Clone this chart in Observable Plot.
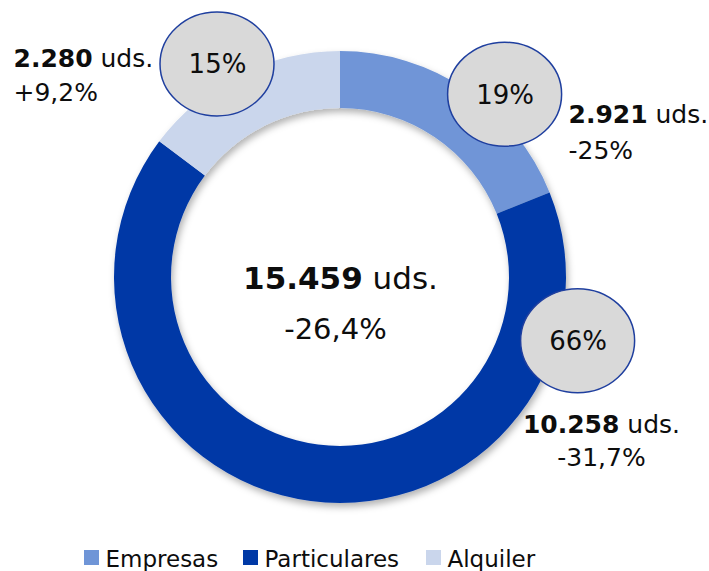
<!DOCTYPE html>
<html><head><meta charset="utf-8">
<script src="https://cdn.jsdelivr.net/npm/d3@7"></script>
<script src="https://cdn.jsdelivr.net/npm/@observablehq/plot@0.6"></script>
<style>body{margin:0;background:#fff} svg{display:block} text{white-space:pre}</style>
</head><body><div id="chart"></div>
<script>
// ---- data ----
const categories = ["Empresas", "Particulares", "Alquiler"];
const units = [2921, 10258, 2280];
const unitLabels = ["2.921", "10.258", "2.280"];
const shareLabels = ["19%", "66%", "15%"];
const changeLabels = ["-25%", "-31,7%", "+9,2%"];
const totalLabel = "15.459";
const totalChange = "-26,4%";
const unitSuffix = " uds.";

// ---- style / layout ----
const colors = ["#6f95d7", "#0039a6", "#cad6ec"];
const W = 709, H = 571;
const cx = 340, cy = 277, rOuter = 226, rInner = 169;
const bubbleAngle = [42, 105, 330], bubbleDist = 246, bubbleRx = 57, bubbleRy = 52;
const labelPos = [
  {x: 568, y: 122, gap: 36, anchor: "start"},
  {x: 601, y: 432, gap: 33, anchor: "middle"},
  {x: 13, y: 66, gap: 34, anchor: "start"}
];
const legendX = [84, 243, 426], legendY = 550, legendSize = 15;
const FONT = "DejaVu Sans";
const INK = "#0d0d0d";

const rows = categories.map((c, i) => ({
  category: c, units: units[i], unitLabel: unitLabels[i],
  share: shareLabels[i], change: changeLabels[i], color: colors[i], i
}));
const pie = d3.pie().sort(null).value(d => d.units)(rows);

const bubbles = rows.map(d => {
  const a = bubbleAngle[d.i] * Math.PI / 180;
  return {...d, bx: cx + bubbleDist * Math.sin(a), by: cy - bubbleDist * Math.cos(a)};
});
const labels = rows.map(d => ({...d, ...labelPos[d.i]}));
const legend = rows.map(d => ({...d, lx: legendX[d.i]}));

function donutMark(index, scales) {
  const sx = scales.x, sy = scales.y;
  const X = sx(cx), Y = sy(cy);
  const ro = sx(cx + rOuter) - X, ri = sx(cx + rInner) - X;
  const g = d3.create("svg:g");
  const f = g.append("defs").append("filter").attr("id", "shadow")
    .attr("x", "-20%").attr("y", "-20%").attr("width", "140%").attr("height", "140%");
  f.append("feDropShadow").attr("dx", 2).attr("dy", 4).attr("stdDeviation", 3.5)
    .attr("flood-color", "#000").attr("flood-opacity", 0.3);
  const arc = d3.arc().innerRadius(ri).outerRadius(ro);
  g.append("g").attr("transform", `translate(${X},${Y})`).attr("filter", "url(#shadow)")
    .selectAll("path").data(pie).join("path")
    .attr("d", arc).attr("fill", d => d.data.color);
  return g.node();
}

function bubbleMark(index, scales) {
  const sx = scales.x, sy = scales.y;
  const g = d3.create("svg:g");
  g.selectAll("ellipse").data(bubbles).join("ellipse")
    .attr("cx", d => sx(d.bx)).attr("cy", d => sy(d.by))
    .attr("rx", d => sx(d.bx + bubbleRx) - sx(d.bx))
    .attr("ry", d => sy(d.by + bubbleRy) - sy(d.by))
    .attr("fill", "#d9d9d9").attr("stroke", "#1f3f9f").attr("stroke-width", 1.5);
  return g.node();
}

const labelMarks = ["start", "middle"].flatMap(anchor => {
  const sub = labels.filter(d => d.anchor === anchor);
  return [
    Plot.text(sub, {x: "x", y: "y", text: d => d.unitLabel + unitSuffix, fontSize: 25,
      textAnchor: anchor, lineAnchor: "bottom", fill: INK}),
    Plot.text(sub, {x: "x", y: d => d.y + d.gap, text: "change", fontSize: 25,
      textAnchor: anchor, lineAnchor: "bottom", fill: INK})
  ];
});

const chart = Plot.plot({
  width: W, height: H,
  margin: 0,
  x: {domain: [0, W], range: [0, W], axis: null},
  y: {domain: [0, H], range: [0, H], axis: null},
  style: {fontFamily: FONT, background: "#fff"},
  marks: [
    donutMark,
    bubbleMark,
    // percentages in bubbles
    Plot.text(bubbles, {x: "bx", y: d => d.by + 9, text: "share", fontSize: 26,
      textAnchor: "middle", lineAnchor: "bottom", fill: INK}),
    // segment labels
    ...labelMarks,
    // centre total
    Plot.text([totalLabel], {x: () => cx, y: () => cy + 11, text: d => d + unitSuffix, fontSize: 31,
      textAnchor: "middle", lineAnchor: "bottom", fill: INK}),
    Plot.text([totalChange], {x: () => cx - 5, y: () => cy + 61, text: d => d, fontSize: 29,
      textAnchor: "middle", lineAnchor: "bottom", fill: INK}),
    // legend
    Plot.rect(legend, {x1: "lx", x2: d => d.lx + legendSize, y1: () => legendY, y2: () => legendY + legendSize,
      fill: "color"}),
    Plot.text(legend, {x: d => d.lx + legendSize + 6, y: () => legendY + legendSize + 1, text: "category",
      fontSize: 23, textAnchor: "start", lineAnchor: "bottom", fill: INK})
  ]
});

// bold numeric part of "N uds." labels
d3.select(chart).selectAll("text").each(function() {
  const t = this.textContent;
  if (t.endsWith(unitSuffix) && this.children.length === 0) {
    const num = t.slice(0, -unitSuffix.length);
    this.textContent = "";
    d3.select(this).append("tspan").attr("font-weight", "bold").text(num);
    d3.select(this).append("tspan").text(unitSuffix);
  }
});

document.getElementById("chart").appendChild(chart);
</script>
</body></html>
